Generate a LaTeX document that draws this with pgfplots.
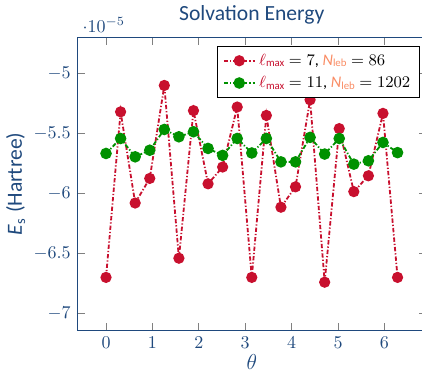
\documentclass[border=0pt]{standalone}
\usepackage{pgfplots}
\pgfplotsset{compat=1.18}
\usepackage{amsmath}
\usepackage[no-math]{fontspec}
\setmainfont{Carlito}
\definecolor{tblue}{RGB}{31,73,125}
\definecolor{cred}{RGB}{200,16,46}
\definecolor{cgreen}{RGB}{0,145,0}
\definecolor{csalmon}{RGB}{250,140,100}
\begin{document}
\begin{tikzpicture}
\begin{axis}[name=ax, scale only axis, width=194.3pt, height=162.6pt,
  xmin=-0.628, xmax=6.911, ymin=-7.14e-5, ymax=-4.70e-5,
  xtick={0,1,2,3,4,5,6},
  ytick={-7e-5,-6.5e-5,-6e-5,-5.5e-5,-5e-5},
  scaled y ticks=base 10:5,
  tick align=inside,
  major tick style={gray, thin},
  axis line style={tblue},
  ticklabel style={text=tblue},
  every y tick scale label/.append style={text=tblue, yshift=-2.2pt},
  title={Solvation Energy},
  title style={text=tblue, font=\large, yshift=-2.2pt},
  xlabel={$\theta$},
  ylabel={\textit{E}$_{\text{s}}$ (Hartree)},
  label style={text=tblue, font=\large},
  xlabel style={yshift=3.5pt},
  ylabel style={yshift=-2.2pt},
  legend style={font=\small, at={(0.98,0.97)}, anchor=north east, draw=black, row sep=0.6pt},
  legend cell align=left,
]
\addplot[color=cred, dash pattern=on 2.4pt off 1.1pt on 0.7pt off 1.1pt, line width=1pt, mark=*, mark size=2.6pt, mark options={solid}] coordinates {
(0.0000,-6.70e-5) (0.3142,-5.32e-5) (0.6283,-6.08e-5) (0.9425,-5.875e-5)
(1.2566,-5.10e-5) (1.5708,-6.54e-5) (1.8850,-5.31e-5) (2.1991,-5.92e-5)
(2.5133,-5.78e-5) (2.8274,-5.28e-5) (3.1416,-6.70e-5) (3.4558,-5.35e-5)
(3.7699,-6.115e-5) (4.0841,-5.945e-5) (4.3982,-5.22e-5) (4.7124,-6.74e-5)
(5.0265,-5.46e-5) (5.3407,-5.985e-5) (5.6549,-5.853e-5) (5.9690,-5.333e-5)
(6.2832,-6.70e-5)};
\addlegendentry{\textcolor{cred}{$\ell_{\text{max}}$} $=7$, \textcolor{csalmon}{\textit{N}$_{\text{leb}}$} $=86$}
\addplot[color=cgreen, dash pattern=on 2.4pt off 1.1pt on 0.7pt off 1.1pt, line width=1pt, mark=*, mark size=2.7pt, mark options={solid}] coordinates {
(0.0000,-5.667e-5) (0.3142,-5.542e-5) (0.6283,-5.695e-5) (0.9425,-5.64e-5)
(1.2566,-5.467e-5) (1.5708,-5.528e-5) (1.8850,-5.486e-5) (2.1991,-5.625e-5)
(2.5133,-5.683e-5) (2.8274,-5.542e-5) (3.1416,-5.663e-5) (3.4558,-5.542e-5)
(3.7699,-5.737e-5) (4.0841,-5.737e-5) (4.3982,-5.533e-5) (4.7124,-5.672e-5)
(5.0265,-5.542e-5) (5.3407,-5.756e-5) (5.6549,-5.728e-5) (5.9690,-5.575e-5)
(6.2832,-5.66e-5)};
\addlegendentry{\textcolor{cred}{$\ell_{\text{max}}$} $=11$, \textcolor{csalmon}{\textit{N}$_{\text{leb}}$} $=1202$}
\end{axis}
\pgfresetboundingbox
\path ([xshift=-42.7pt, yshift=-23.3pt]ax.south west) rectangle ++(234.4pt,206.7pt);
\end{tikzpicture}
\end{document}
